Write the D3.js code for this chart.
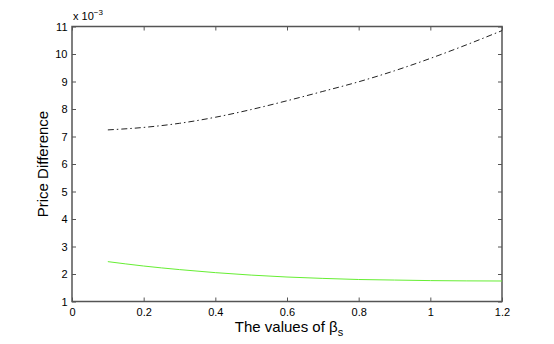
<!DOCTYPE html>
<html>
<head>
<meta charset="utf-8">
<script src="https://cdn.jsdelivr.net/npm/d3@7"></script>
<style>
  body { margin: 0; background: #fff; }
  text { font-family: "Liberation Sans", Arial, sans-serif; fill: #000; }
</style>
</head>
<body>
<div id="chart"></div>
<script>
var width = 554
var height = 344
var margin = { top: 26.5, right: 52, bottom: 42.5, left: 72 }

// beta_s values shared by both curves
var betaS = [0.1, 0.2, 0.3, 0.4, 0.5, 0.6, 0.7, 0.8, 0.9, 1.0, 1.1, 1.2]
// values in units of 1e-3
var blackSeries = [7.24, 7.33, 7.48, 7.70, 7.98, 8.30, 8.64, 8.99, 9.39, 9.84, 10.33, 10.85]
var greenSeries = [2.45, 2.29, 2.16, 2.05, 1.96, 1.89, 1.84, 1.80, 1.78, 1.76, 1.75, 1.745]

var xTicks = [0, 0.2, 0.4, 0.6, 0.8, 1, 1.2]
var yTicks = [1, 2, 3, 4, 5, 6, 7, 8, 9, 10, 11]

var axisColor = '#555'

var svg = d3.select('#chart').append('svg')
    .attr('width', width)
    .attr('height', height)

var x = d3.scaleLinear().domain([0, 1.2]).range([margin.left, width - margin.right])
var y = d3.scaleLinear().domain([1, 11]).range([height - margin.bottom, margin.top])

// ticks inside the box, MATLAB style
function styleAxis(g, showLabels) {
    g.select('.domain').remove()
    g.selectAll('.tick line').attr('stroke', axisColor)
    g.selectAll('.tick text').attr('font-size', 11).attr('fill', '#000')
    if (!showLabels) g.selectAll('.tick text').remove()
}

svg.append('g')
    .attr('transform', 'translate(0,' + y(1) + ')')
    .call(d3.axisBottom(x).tickValues(xTicks).tickSize(-4).tickPadding(7).tickFormat(d3.format('')))
    .call(styleAxis, true)

svg.append('g')
    .attr('transform', 'translate(0,' + y(11) + ')')
    .call(d3.axisTop(x).tickValues(xTicks).tickSize(-4))
    .call(styleAxis, false)

svg.append('g')
    .attr('transform', 'translate(' + x(0) + ',0)')
    .call(d3.axisLeft(y).tickValues(yTicks).tickSize(-4).tickPadding(4.5))
    .call(styleAxis, true)

svg.append('g')
    .attr('transform', 'translate(' + x(1.2) + ',0)')
    .call(d3.axisRight(y).tickValues(yTicks).tickSize(-4))
    .call(styleAxis, false)

svg.append('rect')
    .attr('x', x(0))
    .attr('y', y(11))
    .attr('width', x(1.2) - x(0))
    .attr('height', y(1) - y(11))
    .attr('fill', 'none')
    .attr('stroke', axisColor)
    .attr('stroke-width', 1.5)

var line = d3.line()
    .x(function(d) { return x(d[0]) })
    .y(function(d) { return y(d[1]) })
    .curve(d3.curveMonotoneX)

svg.append('path')
    .datum(d3.zip(betaS, blackSeries))
    .attr('d', line)
    .attr('fill', 'none')
    .attr('stroke', '#222')
    .attr('stroke-width', 1)
    .attr('stroke-dasharray', '6,3,1.5,3')

svg.append('path')
    .datum(d3.zip(betaS, greenSeries))
    .attr('d', line)
    .attr('fill', 'none')
    .attr('stroke', '#66ee33')
    .attr('stroke-width', 1)

// exponent label
var expo = svg.append('text')
    .attr('x', x(0) + 1)
    .attr('y', y(11) - 7)
    .attr('font-size', 11)
expo.append('tspan').text('x 10')
expo.append('tspan').attr('dy', -5).attr('font-size', 8).text('−3')

svg.append('text')
    .attr('x', (x(0) + x(1.2)) / 2 + 2)
    .attr('y', 332)
    .attr('text-anchor', 'middle')
    .attr('font-size', 15)
    .call(function(t) {
        t.append('tspan').text('The values of β')
        t.append('tspan').attr('dy', 4).attr('font-size', 11).text('s')
    })

svg.append('text')
    .attr('transform', 'translate(48,' + (y(1) + y(11)) / 2 + ') rotate(-90)')
    .attr('text-anchor', 'middle')
    .attr('font-size', 15)
    .text('Price Difference')
</script>
</body>
</html>
